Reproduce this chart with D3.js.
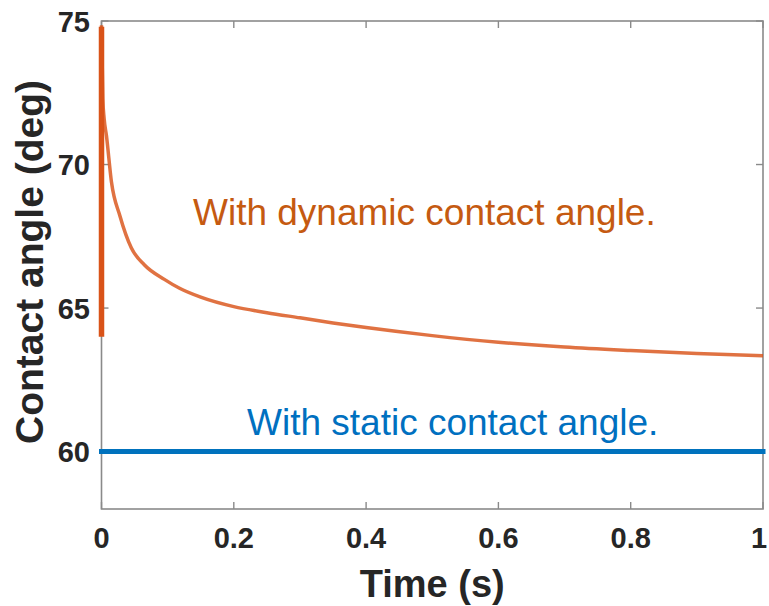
<!DOCTYPE html>
<html>
<head>
<meta charset="utf-8">
<script src="https://cdn.jsdelivr.net/npm/d3@7/dist/d3.min.js"></script>
<style>
  html, body { margin: 0; padding: 0; background: #fff; }
  svg { display: block; }
</style>
</head>
<body>
<div id="root"></div>
<script>
// dynamic contact angle (orange curve)
const dynTime = [0, 0.002, 0.004, 0.0075, 0.015, 0.028, 0.045, 0.065, 0.095, 0.118, 0.15, 0.2, 0.25, 0.3, 0.35, 0.4, 0.5, 0.6, 0.7, 0.8, 0.9, 1.0]
const dynAngle = [74.85, 72.3, 71.6, 71.0, 69.4, 68.2, 67.1, 66.5, 66.0, 65.69, 65.38, 65.05, 64.84, 64.66, 64.48, 64.32, 64.04, 63.81, 63.64, 63.52, 63.42, 63.34]

// initial transient at t = 0 (thick vertical stroke)
const spikeTime = [0, 0]
const spikeAngle = [64, 74.8]

// static contact angle (blue line)
const staticTime = [0, 1]
const staticAngle = [60, 60]

const xTicks = [0, 0.2, 0.4, 0.6, 0.8, 1]
const xTickLabels = ['0', '0.2', '0.4', '0.6', '0.8', '1']
const yTicks = [60, 65, 70, 75]
const yTickLabels = ['60', '65', '70', '75']

const W = 769
const H = 606
const box = { left: 101.5, right: 763, top: 21, bottom: 509 }

const svg = d3.select('#root').append('svg')
  .attr('width', W)
  .attr('height', H)

const x = d3.scaleLinear().domain([0, 1]).range([box.left, box.right])
const y = d3.scaleLinear().domain([58, 75]).range([box.bottom, box.top])

const font = '"Liberation Sans", Arial, Helvetica, sans-serif'
const axisColor = '#8a8a8a'
const tickLen = 7
const tickFont = 29

// box
svg.append('rect')
  .attr('x', box.left)
  .attr('y', box.top)
  .attr('width', box.right - box.left)
  .attr('height', box.bottom - box.top)
  .attr('fill', 'none')
  .attr('stroke', axisColor)
  .attr('stroke-width', 1.6)

// ticks (inside, on all four sides)
const tickG = svg.append('g')
  .attr('stroke', axisColor)
  .attr('stroke-width', 1.4)

xTicks.forEach(t => {
  tickG.append('line')
    .attr('x1', x(t)).attr('x2', x(t))
    .attr('y1', box.bottom).attr('y2', box.bottom - tickLen)
  tickG.append('line')
    .attr('x1', x(t)).attr('x2', x(t))
    .attr('y1', box.top).attr('y2', box.top + tickLen)
})
yTicks.forEach(v => {
  tickG.append('line')
    .attr('x1', box.left).attr('x2', box.left + tickLen)
    .attr('y1', y(v)).attr('y2', y(v))
  tickG.append('line')
    .attr('x1', box.right).attr('x2', box.right - tickLen)
    .attr('y1', y(v)).attr('y2', y(v))
})

// tick labels (last one nudged so it stays inside the page)
svg.append('g')
  .selectAll('text')
  .data(xTicks)
  .join('text')
  .attr('x', d => Math.min(x(d), W - 10))
  .attr('y', 548)
  .attr('text-anchor', 'middle')
  .attr('font-family', font)
  .attr('font-weight', 'bold')
  .attr('font-size', tickFont)
  .attr('fill', '#262626')
  .text((d, i) => xTickLabels[i])

svg.append('g')
  .selectAll('text')
  .data(yTicks)
  .join('text')
  .attr('x', 90)
  .attr('y', d => y(d) + 10.5)
  .attr('text-anchor', 'end')
  .attr('font-family', font)
  .attr('font-weight', 'bold')
  .attr('font-size', tickFont)
  .attr('fill', '#262626')
  .text((d, i) => yTickLabels[i])

// axis labels
svg.append('text')
  .attr('x', (box.left + box.right) / 2)
  .attr('y', 597)
  .attr('text-anchor', 'middle')
  .attr('font-family', font)
  .attr('font-weight', 'bold')
  .attr('font-size', 38)
  .attr('fill', '#262626')
  .text('Time (s)')

svg.append('text')
  .attr('transform', 'translate(43,262) rotate(-90)')
  .attr('text-anchor', 'middle')
  .attr('font-family', font)
  .attr('font-weight', 'bold')
  .attr('font-size', 39)
  .attr('fill', '#262626')
  .text('Contact angle (deg)')

// lines
const line = d3.line()
  .x(d => x(d[0]))
  .y(d => y(d[1]))

svg.append('path')
  .datum(d3.zip(staticTime, staticAngle))
  .attr('d', line)
  .attr('fill', 'none')
  .attr('stroke', '#0072BD')
  .attr('stroke-width', 5)
  .attr('stroke-linecap', 'square')

svg.append('path')
  .datum(d3.zip(spikeTime, spikeAngle))
  .attr('d', line)
  .attr('fill', 'none')
  .attr('stroke', '#D95319')
  .attr('stroke-width', 5.5)

svg.append('path')
  .datum(d3.zip(dynTime, dynAngle))
  .attr('d', line.curve(d3.curveMonotoneX))
  .attr('fill', 'none')
  .attr('stroke', '#D95319')
  .attr('stroke-opacity', 0.82)
  .attr('stroke-width', 3.5)

// annotations
svg.append('text')
  .attr('x', 193)
  .attr('y', 225)
  .attr('font-family', font)
  .attr('font-size', 37)
  .attr('fill', '#C55A11')
  .text('With dynamic contact angle.')

svg.append('text')
  .attr('x', 247)
  .attr('y', 435)
  .attr('font-family', font)
  .attr('font-size', 37)
  .attr('fill', '#0070C0')
  .text('With static contact angle.')
</script>
</body>
</html>
